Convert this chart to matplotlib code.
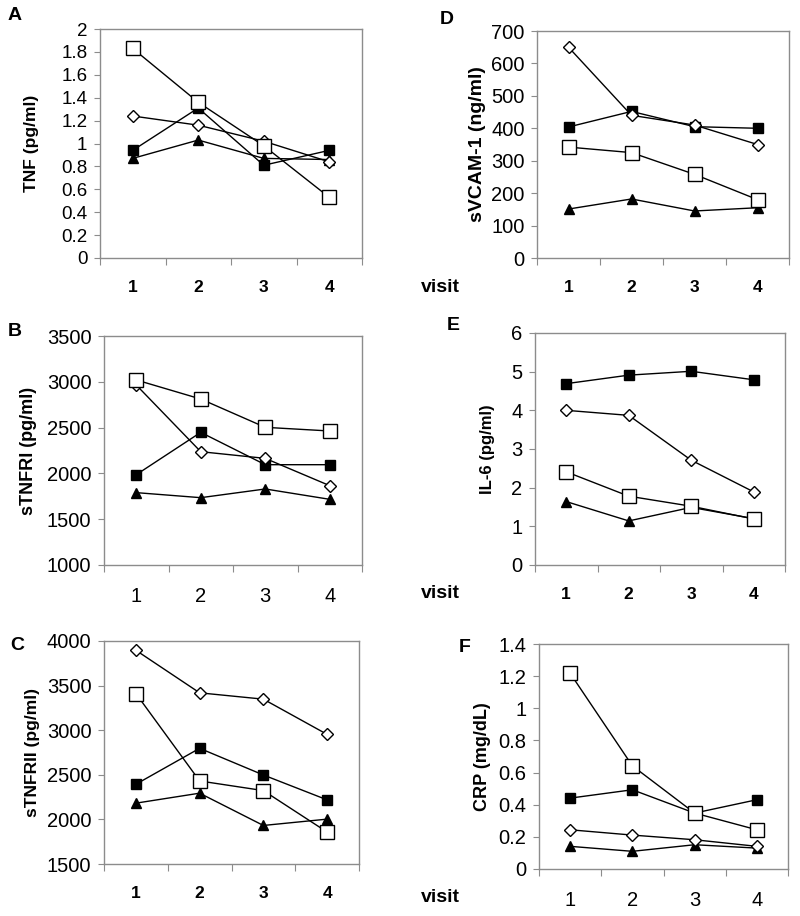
import matplotlib
matplotlib.use("Agg")
import matplotlib.pyplot as plt
import numpy as np

plt.rcParams['font.family'] = ['Liberation Sans', 'DejaVu Sans']

visits = [1, 2, 3, 4]
visit_labels = ["1", "2", "3", "4"]

# Panel A: TNF (pg/ml)
tnf_open_sq = [1.83, 1.36, 0.98, 0.53]
tnf_diamond = [1.24, 1.16, 1.02, 0.84]
tnf_filled_sq = [0.94, 1.31, 0.81, 0.94]
tnf_triangle = [0.87, 1.03, 0.87, 0.86]

# Panel B: sTNFRI (pg/ml)
tnfr1_open_sq = [3020, 2812, 2503, 2463]
tnfr1_diamond = [2965, 2237, 2164, 1866]
tnfr1_filled_sq = [1986, 2448, 2095, 2095]
tnfr1_triangle = [1790, 1735, 1830, 1717]

# Panel C: sTNFRII (pg/ml)
tnfr2_open_sq = [3411, 2431, 2323, 1858]
tnfr2_diamond = [3896, 3419, 3348, 2953]
tnfr2_filled_sq = [2394, 2797, 2498, 2219]
tnfr2_triangle = [2182, 2294, 1932, 2003]

# Panel D: sVCAM-1 (ng/ml)
vcam_open_sq = [342, 325, 258, 180]
vcam_diamond = [650, 440, 410, 350]
vcam_filled_sq = [404, 452, 405, 400]
vcam_triangle = [151, 182, 145, 155]

# Panel E: IL-6 (pg/ml)
il6_open_sq = [2.41, 1.78, 1.52, 1.19]
il6_diamond = [4.00, 3.87, 2.71, 1.89]
il6_filled_sq = [4.69, 4.91, 5.01, 4.79]
il6_triangle = [1.64, 1.14, 1.49, 1.20]

# Panel F: CRP (mg/dL)
crp_open_sq = [1.218, 0.642, 0.348, 0.244]
crp_diamond = [0.244, 0.211, 0.182, 0.141]
crp_filled_sq = [0.441, 0.493, 0.348, 0.431]
crp_triangle = [0.141, 0.110, 0.151, 0.130]

W, H = 800, 916
fig = plt.figure(figsize=(W / 100, H / 100), dpi=100)

GRAY = "#8c8c8c"

panels = [
    # letter, ylabel, series, ylim, yticks, formatter, rect(px: l, r, t, b),
    # bold x ticks, visit label, letter pos, ylabel right edge x, ytick size, xtick size, ylabel size
    ("A", "TNF (pg/ml)", (tnf_open_sq, tnf_diamond, tnf_filled_sq, tnf_triangle),
     (0, 2), np.arange(0, 2.01, 0.2), lambda v: ("%g" % round(v, 1)),
     (100, 362, 29, 258), True, False, (15, 16), 39, 13.5, 12.5, 12.5),
    ("B", "sTNFRI (pg/ml)", (tnfr1_open_sq, tnfr1_diamond, tnfr1_filled_sq, tnfr1_triangle),
     (1000, 3500), np.arange(1000, 3501, 500), lambda v: "%d" % v,
     (104, 362, 336, 565), False, False, (15, 331), 37, 14.5, 14.5, 13),
    ("C", "sTNFRII (pg/ml)", (tnfr2_open_sq, tnfr2_diamond, tnfr2_filled_sq, tnfr2_triangle),
     (1500, 4000), np.arange(1500, 4001, 500), lambda v: "%d" % v,
     (104, 359, 641, 864), True, False, (17, 645), 40, 14.5, 12.5, 12.5),
    ("D", "sVCAM-1 (ng/ml)", (vcam_open_sq, vcam_diamond, vcam_filled_sq, vcam_triangle),
     (0, 700), np.arange(0, 701, 100), lambda v: "%d" % v,
     (537, 789, 31, 258), True, True, (447, 19), 486, 14.5, 12.5, 14),
    ("E", "IL-6 (pg/ml)", (il6_open_sq, il6_diamond, il6_filled_sq, il6_triangle),
     (0, 6), np.arange(0, 6.01, 1), lambda v: "%d" % v,
     (535, 785, 333, 565), True, True, (453, 326), 495, 14.5, 12.5, 12),
    ("F", "CRP (mg/dL)", (crp_open_sq, crp_diamond, crp_filled_sq, crp_triangle),
     (0, 1.4), np.arange(0, 1.41, 0.2), lambda v: ("%g" % round(v, 1)),
     (539, 788, 644, 869), False, True, (465, 647), 491, 14.5, 14.5, 13),
]

for (letter, ylabel, series, ylim, yticks, fmt, rect, bold, visit, lpos, ylx, yfs, xfs, lfs) in panels:
    l, r, t, b = rect
    ax = fig.add_axes([l / W, (H - b) / H, (r - l) / W, (b - t) / H])
    open_sq, diamond, filled_sq, triangle = series
    kw = dict(color="black", lw=1.0, zorder=3)
    ax.plot(visits, filled_sq, marker="s", ms=7, mfc="black", mec="black", **kw)
    ax.plot(visits, triangle, marker="^", ms=7.5, mfc="black", mec="black", **kw)
    ax.plot(visits, diamond, marker="D", ms=6, mfc="white", mec="black", mew=1.0, **kw)
    ax.plot(visits, open_sq, marker="s", ms=10.5, mfc="white", mec="black", mew=1.0, **kw)

    ax.set_xlim(0.5, 4.5)
    ax.set_ylim(*ylim)
    ax.set_yticks(yticks)
    ax.set_yticklabels([fmt(v) for v in yticks], fontsize=yfs)
    ax.set_xticks(visits)
    ax.set_xticklabels(visit_labels, fontsize=xfs, fontweight="bold" if bold else "normal")
    ax.set_xticks([0.5, 1.5, 2.5, 3.5, 4.5], minor=True)
    ax.tick_params(axis="x", which="major", length=0, pad=16)
    ax.tick_params(axis="x", which="minor", length=5, width=0.8, color=GRAY, direction="out")
    ax.tick_params(axis="y", which="major", length=4, width=0.8, color=GRAY, direction="out", pad=5)
    for s in ax.spines.values():
        s.set_color(GRAY)
        s.set_linewidth(1.0)

    ax.set_ylabel(ylabel, fontsize=lfs, fontweight="bold")
    ax.yaxis.set_label_coords((ylx - l) / (r - l), 0.5)

    fig.text(lpos[0] / W, 1 - lpos[1] / H, letter, fontsize=14, fontweight="bold",
             ha="center", va="center")
    if visit:
        yv = b + 29
        fig.text(440 / W, 1 - yv / H, "visit", fontsize=14, fontweight="bold",
                 ha="center", va="center")

fig.savefig("out.png", dpi=100)
